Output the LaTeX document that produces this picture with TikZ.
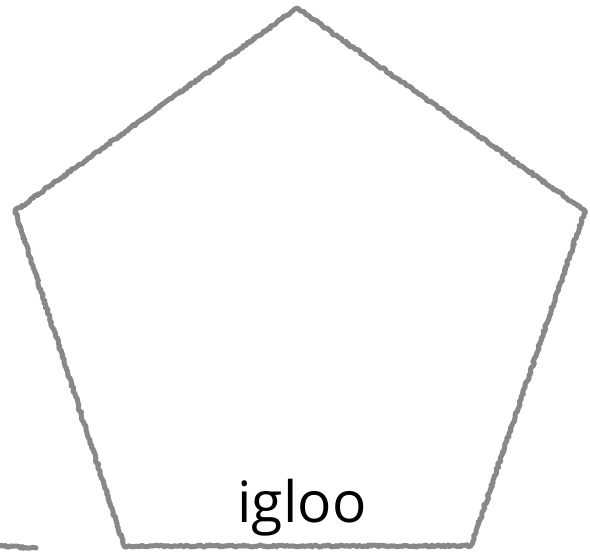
\documentclass[tikz,border=0pt]{standalone}
\usepackage{fontspec}
\setmainfont{Open Sans}
\usetikzlibrary{decorations.pathmorphing}
\definecolor{strokegray}{RGB}{136,136,136}
\tikzset{
  rough/.style={draw=strokegray, line width=5pt, line join=round, line cap=round,
    decorate, decoration={random steps, segment length=1.8pt, amplitude=1.1pt}},
  labeltext/.style={font=\fontsize{57}{60}\selectfont, text=black, inner sep=0pt}
}
\pgfmathsetseed{7}
\begin{document}
\begin{tikzpicture}[x=1pt,y=1pt]
\useasboundingbox (0,0) rectangle (590,552);
\coordinate (T) at (297,544);
\coordinate (L) at (15,341);
\coordinate (R) at (585,341);
\coordinate (BL) at (124,6);
\coordinate (BR) at (471,6);
\draw[rough] (T) -- (R) -- (BR) -- (BL) -- (L) -- cycle;
\coordinate (m1) at (0,6);
\coordinate (m2) at (36,4);
\draw[rough] (m1) -- (m2);
\node[labeltext, anchor=base] (label) at (302,29) {igloo};
\end{tikzpicture}
\end{document}
